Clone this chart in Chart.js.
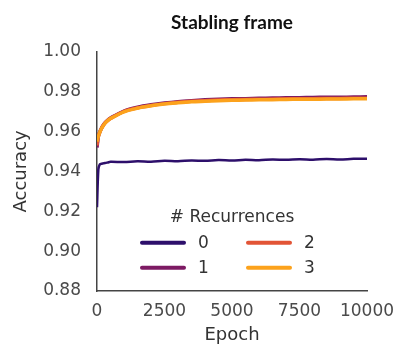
<!DOCTYPE html>
<html>
<head>
<meta charset="utf-8">
<script src="https://cdn.jsdelivr.net/npm/chart.js@4/dist/chart.umd.min.js"></script>
<style>
    html, body { margin: 0; padding: 0; background: #fff; }
    #wrap { width: 398px; height: 344px; }
</style>
</head>
<body>
<div id="wrap"><canvas id="chart_stabling"></canvas></div>
<script>
const epochs = [0, 50, 100, 150, 200, 300, 400, 500, 1000, 1500, 2000, 2500, 3000, 3500, 4000,
    4500, 5000, 5500, 6000, 6500, 7000, 7500, 8000, 8500, 9000, 9500, 10000];

const rec0 = [0.922, 0.941, 0.9435, 0.9438, 0.9440, 0.9442, 0.9445, 0.9448, 0.9447, 0.9451, 0.9449,
    0.9453, 0.9451, 0.9455, 0.9453, 0.9457, 0.9455, 0.9458, 0.9456, 0.9460, 0.9458, 0.9461,
    0.9459, 0.9462, 0.9460, 0.9463, 0.9463];
const rec1 = [0.952, 0.9575, 0.9597, 0.9612, 0.9626, 0.9645, 0.9658, 0.9668, 0.9703, 0.9722, 0.9734,
    0.9743, 0.9750, 0.9755, 0.9759, 0.9762, 0.9764, 0.9765, 0.9767, 0.9768, 0.9769, 0.9770,
    0.9771, 0.9772, 0.9772, 0.9773, 0.9774];
const rec2 = [0.953, 0.9577, 0.9596, 0.9611, 0.9624, 0.9643, 0.9656, 0.9666, 0.9701, 0.9719, 0.9731,
    0.9740, 0.9747, 0.9752, 0.9755, 0.9758, 0.9760, 0.9761, 0.9762, 0.9763, 0.9764, 0.9765,
    0.9765, 0.9766, 0.9766, 0.9767, 0.9767];
const rec3 = [0.955, 0.9575, 0.9595, 0.9610, 0.9623, 0.9642, 0.9655, 0.9665, 0.9699, 0.9717, 0.9729,
    0.9738, 0.9744, 0.9749, 0.9752, 0.9755, 0.9757, 0.9758, 0.9759, 0.9760, 0.9761, 0.9762,
    0.9762, 0.9763, 0.9763, 0.9764, 0.9764];

const seriesLabels = ['0', '1', '2', '3'];
const seriesColors = ['#2d0f6b', '#7d1a63', '#e25436', '#fca21c'];
const yTicks = [0.88, 0.90, 0.92, 0.94, 0.96, 0.98, 1.00];
const xTicks = [0, 2500, 5000, 7500, 10000];

const tickFont = { family: "'DejaVu Sans'", size: 17 };
const tickColor = '#4a4a4a';

function toPoints(values) {
    return epochs.map((e, i) => ({ x: e, y: values[i] }));
}

// legend drawn inside the plot, two columns like the original figure
const recurrenceLegend = {
    id: 'recurrenceLegend',
    afterDraw(chart) {
        const ctx = chart.ctx;
        const area = chart.chartArea;
        const cx = (area.left + area.right) / 2;
        ctx.save();
        ctx.fillStyle = '#333';
        ctx.font = "17px 'DejaVu Sans'";
        ctx.textAlign = 'center';
        ctx.textBaseline = 'middle';
        ctx.fillText('# Recurrences', cx, area.top + 166);

        const cols = [cx - 90, cx + 16];
        const rows = [area.top + 191, area.top + 216];
        chart.data.datasets.forEach((ds, i) => {
            const col = cols[Math.floor(i / 2)];
            const row = rows[i % 2];
            ctx.strokeStyle = ds.borderColor;
            ctx.lineWidth = 4;
            ctx.lineCap = 'round';
            ctx.beginPath();
            ctx.moveTo(col, row);
            ctx.lineTo(col + 42, row);
            ctx.stroke();
            ctx.fillStyle = '#333';
            ctx.textAlign = 'left';
            ctx.fillText(ds.label, col + 56, row + 1);
        });
        ctx.restore();
    }
};

const allSeries = [rec0, rec1, rec2, rec3];

new Chart(document.querySelector('#chart_stabling'), {
    type: 'line',
    data: {
        datasets: allSeries.map((values, i) => ({
            label: seriesLabels[i],
            data: toPoints(values),
            borderColor: seriesColors[i],
            backgroundColor: seriesColors[i],
            borderWidth: i == 0 ? 2.5 : 3.5,
            pointRadius: 0,
            tension: 0.3,
            order: 3 - i
        }))
    },
    options: {
        responsive: true,
        maintainAspectRatio: false,
        animation: false,
        layout: {
            padding: { left: 0, right: 31, top: 0, bottom: 0 }
        },
        plugins: {
            legend: { display: false },
            tooltip: { enabled: false },
            title: {
                display: true,
                text: 'Stabling frame',
                fullSize: false,
                color: '#111',
                font: { family: 'Lato', size: 19, weight: 'bold' },
                padding: { top: 11, bottom: 18 }
            }
        },
        scales: {
            x: {
                type: 'linear',
                min: 0,
                max: 10000,
                afterBuildTicks: scale => { scale.ticks = xTicks.map(v => ({ value: v })); },
                afterFit: scale => {
                    scale.height = 53;
                    scale.paddingLeft = 0;
                    scale.paddingRight = 0;
                },
                grid: { display: false, drawTicks: false },
                border: { display: true, color: '#444', width: 1.5 },
                ticks: {
                    color: tickColor,
                    font: tickFont,
                    padding: 10,
                    maxRotation: 0,
                    callback: v => String(v)
                },
                title: {
                    display: true,
                    text: 'Epoch',
                    color: '#333',
                    font: { family: "'DejaVu Sans'", size: 18, lineHeight: 1.0 },
                    padding: { top: 4, bottom: 0 }
                }
            },
            y: {
                min: 0.88,
                max: 1.00,
                afterBuildTicks: scale => { scale.ticks = yTicks.map(v => ({ value: v })); },
                afterFit: scale => { scale.width = 97; },
                grid: { display: false, drawTicks: false },
                border: { display: true, color: '#444', width: 1.5 },
                ticks: {
                    color: tickColor,
                    font: tickFont,
                    padding: 16,
                    callback: v => v.toFixed(2)
                },
                title: {
                    display: true,
                    text: 'Accuracy',
                    color: '#333',
                    font: { family: "'DejaVu Sans'", size: 18 },
                    padding: { top: 11, bottom: 0 }
                }
            }
        }
    },
    plugins: [recurrenceLegend]
});
</script>
</body>
</html>
